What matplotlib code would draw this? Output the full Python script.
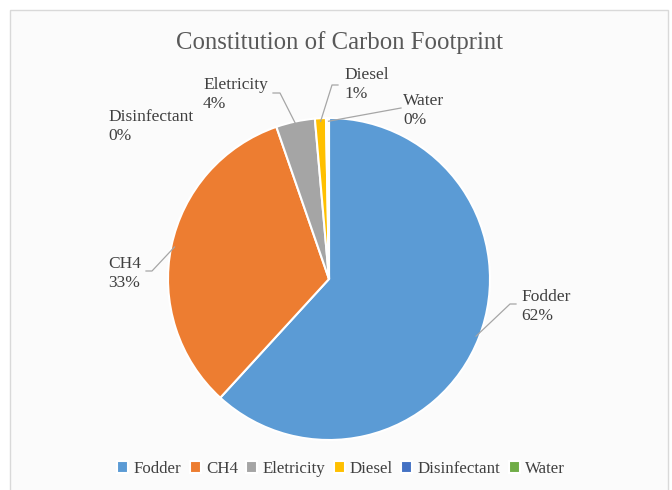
import numpy as np
import matplotlib
matplotlib.use('Agg')
import matplotlib.pyplot as plt
from matplotlib.patches import Rectangle

# carbon footprint shares (%)
sources = ['Fodder', 'CH4', 'Eletricity', 'Diesel', 'Disinfectant', 'Water']
shares = [61.8, 32.9, 3.9, 1.1, 0.2, 0.1]
colors = ['#5B9BD5', '#ED7D31', '#A5A5A5', '#FFC000', '#4472C4', '#70AD47']

plt.rcParams['font.family'] = ['Liberation Serif', 'DejaVu Serif']
txt_col = '#404040'

W, H = 672, 490
fig = plt.figure(figsize=(W/100, H/100), dpi=100)
fig.patch.set_facecolor('white')

# chart area frame
fig.patches.append(Rectangle((10/W, -0.02), (668-10)/W, 1.02-10/H,
                             transform=fig.transFigure, facecolor='#fbfbfb',
                             edgecolor='#d9d9d9', linewidth=1.0, zorder=-5))

cx, cy, R = 329, 279, 161
ax = fig.add_axes([(cx-R)/W, (H-cy-R)/H, 2*R/W, 2*R/H])

wedges, _ = ax.pie(shares, colors=colors, startangle=90, counterclock=False,
                   radius=1, wedgeprops=dict(edgecolor='white', linewidth=1.5))
ax.set_xlim(-1, 1)
ax.set_ylim(-1, 1)
ax.axis('off')

def px(x, y):
    # pixel position -> pie data coordinates
    return (x-cx)/R, (cy-y)/R

# label text positions (top-left of text block) and leader elbow points
label_pos = {
    'Fodder': (521, 289),
    'CH4': (108, 256),
    'Eletricity': (203, 77),
    'Diesel': (344, 67),
    'Disinfectant': (108, 109),
    'Water': (403, 93),
}
elbows = {
    'Fodder': [(516, 304), (510, 304)],
    'CH4': [(146, 271), (152, 271)],
    'Eletricity': [(273, 93), (280, 93)],
    'Diesel': [(338, 85), (332, 85)],
    'Water': [(401, 108)],
}

total = sum(shares)
for w, name, v in zip(wedges, sources, shares):
    tx, ty = px(*label_pos[name])
    ax.text(tx, ty, '%s\n%.0f%%' % (name, 100*v/total), ha='left', va='top',
            fontsize=12.5, color=txt_col, linespacing=1.28, clip_on=False)
    if name in elbows:
        mid = np.deg2rad((w.theta1 + w.theta2) / 2)
        ex, ey = 0.98*np.cos(mid), 0.98*np.sin(mid)
        pts = [px(*p) for p in elbows[name]] + [(ex, ey)]
        xs, ys = zip(*pts)
        ax.plot(xs, ys, color='#a6a6a6', linewidth=0.9, clip_on=False)

fig.text(340/W, 1-43/H, 'Constitution of Carbon Footprint', ha='center',
         va='center', fontsize=17.8, color='#595959')

fig.legend(wedges, sources, loc='center', bbox_to_anchor=(341/W, 1-469/H),
           ncol=6, frameon=False, fontsize=12.2, handlelength=0.65,
           handleheight=0.65, handletextpad=0.3, columnspacing=0.5,
           labelcolor=txt_col)

fig.savefig('out.png', dpi=100)
